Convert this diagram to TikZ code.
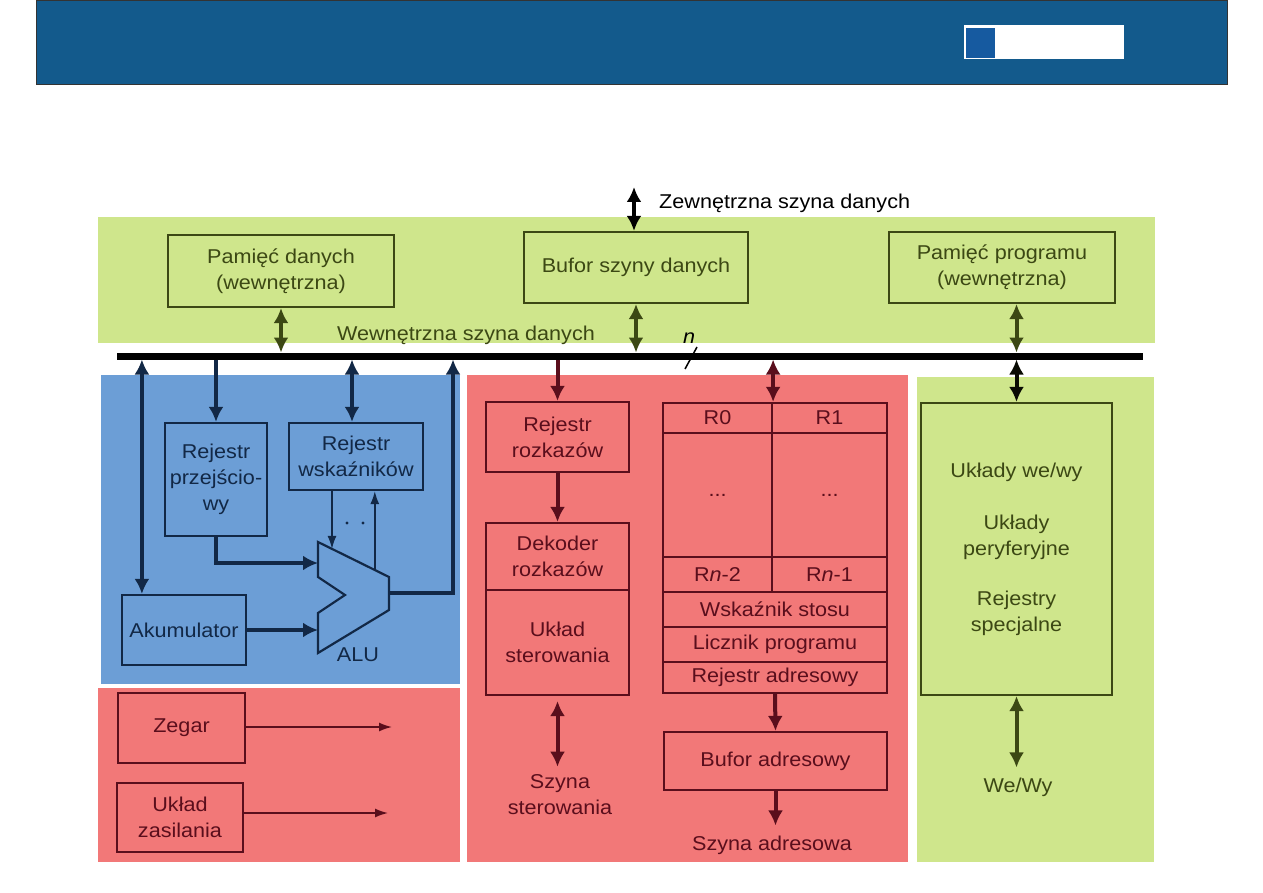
\documentclass[tikz,border=0pt]{standalone}
\usepackage{fontspec}
\setmainfont{Liberation Sans}[FakeStretch=1.08]
\usetikzlibrary{arrows.meta,calc}
\definecolor{hdr}{RGB}{19,90,140}
\definecolor{hdrsq}{RGB}{22,90,160}
\definecolor{pgreen}{RGB}{207,230,140}
\definecolor{pblue}{RGB}{108,158,214}
\definecolor{pred}{RGB}{242,120,120}
\definecolor{gline}{RGB}{60,72,20}
\definecolor{bline}{RGB}{18,40,70}
\definecolor{rline}{RGB}{90,14,28}
\begin{document}
\begin{tikzpicture}[x=1pt,y=-1pt,
  font=\fontsize{20}{26}\selectfont,
  box/.style={draw, line width=2.2pt, inner sep=0pt, align=center},
  gbox/.style={box, draw=gline, text=gline},
  bbox/.style={box, draw=bline, text=bline},
  rbox/.style={box, draw=rline, text=rline},
  lbl/.style={inner sep=0pt, align=center},
  thick arr/.style={line width=4pt, -{Latex[length=15pt,width=15pt]}},
  thick darr/.style={line width=4pt, {Latex[length=15pt,width=15pt]}-{Latex[length=15pt,width=15pt]}},
  thin arr/.style={line width=1.6pt, -{Latex[length=13pt,width=9pt]}}
]
\useasboundingbox (0,0) rectangle (1263,893);
% header
\fill[hdr, draw=black!80, line width=0.8pt] (36,0) rectangle (1227,84);
\fill[white] (964,25) rectangle (1124,59);
\fill[hdrsq] (966,28) rectangle (995,58);

% panels
\fill[pgreen] (98,217) rectangle (1155,343);
\fill[pblue] (101,375) rectangle (460,684);
\fill[pred] (98,688) rectangle (460,862);
\fill[pred] (467,375) rectangle (908,862);
\fill[pgreen] (917,377) rectangle (1154,862);

% bus
\coordinate (busL) at (117,356);
\coordinate (busR) at (1143,356);
\draw[line width=7pt] (busL) -- (busR);
\draw[line width=1.5pt] (685,369) -- (697,347);
\node[lbl, font=\fontsize{20}{26}\selectfont\itshape] (nlbl) at (689,338) {n};

% green
\node[gbox, minimum width=226pt, minimum height=72pt] (pd) at (281,271) {Pamięć danych\\(wewnętrzna)};
\node[gbox, minimum width=224pt, minimum height=71pt] (buf) at (636,267.5) {Bufor szyny danych};
\node[gbox, minimum width=226pt, minimum height=71pt] (pp) at (1002,267.5) {Pamięć programu\\(wewnętrzna)};
\node[gbox, minimum width=191pt, minimum height=292pt] (io) at (1016.5,549)
  {Układy we/wy\\[26pt]Układy\\peryferyjne\\[24pt]Rejestry\\specjalne};
\node[lbl, anchor=west] (ext) at (659,203) {Zewnętrzna szyna danych};
\node[lbl, text=gline] (wsd) at (466,335) {Wewnętrzna szyna danych};
\node[lbl, text=gline] (wewy) at (1018,787) {We/Wy};
\coordinate (extTop) at (634,187);

\draw[thick darr, black] (extTop) -- (extTop |- buf.north);
\draw[thick darr, gline, shorten >=3.5pt] (pd.south) -- (pd.south |- busL);
\draw[thick darr, gline, shorten >=3.5pt] (buf.south) -- (buf.south |- busL);
\draw[thick darr, gline, shorten >=3.5pt] (pp.south -| io.north) -- (io.north |- busL);
\draw[thick darr, black!85!gline, shorten <=3.5pt] (io.north |- busL) -- (io.north);
\draw[thick darr, gline, shorten >=10pt] (io.south) -- (io.south |- wewy.north);

% blue
\node[bbox, minimum width=102pt, minimum height=113pt] (rp) at (216,479.5) {Rejestr\\przejścio-\\wy};
\node[bbox, minimum width=134pt, minimum height=67pt] (rw) at (356,456.5) {Rejestr\\wskaźników};
\node[bbox, minimum width=124pt, minimum height=70pt] (ak) at (184,630) {Akumulator};
\coordinate (a1) at (318,542);
\coordinate (a2) at (389,577);
\coordinate (a3) at (389,610);
\coordinate (a4) at (318,653);
\draw[bline, line width=2.2pt, line join=miter] (a1) -- (a2) -- (a3) -- (a4) -- (318,613) -- (345,595) -- (318,577) -- cycle;
\node[lbl, text=bline] (alu) at (358,655) {ALU};
\coordinate (aluIn1) at (318,563);
\coordinate (aluOut) at (389,593);
\coordinate (aluRet) at (453,593);
\coordinate (aluT1) at ($(a1)!0.197!(a2)$);
\coordinate (aluT2) at ($(a1)!0.80!(a2)$);

\draw[thick darr, bline, shorten <=3.5pt] ([xshift=21pt]ak.north west |- busL) -- ([xshift=21pt]ak.north west);
\draw[thick arr, bline, shorten <=3.5pt] (rp.north |- busL) -- (rp.north);
\draw[thick darr, bline, shorten <=3.5pt] ([xshift=-4pt]rw.north |- busL) -- ([xshift=-4pt]rw.north);
\draw[thick arr, bline] (rp.south) |- (aluIn1);
\draw[thick arr, bline] (ak.east) -- (ak.east -| aluIn1);
\draw[thick arr, bline, shorten >=3.5pt] (aluOut) -- (aluRet) -- (aluRet |- busL);
\draw[thin arr, bline] (aluT1 |- rw.south) -- (aluT1);
\draw[thin arr, bline] (aluT2) -- (aluT2 |- rw.south);
\fill[bline] (347,523) circle (1.6pt) (363,523) circle (1.6pt);

% red lower-left
\node[rbox, minimum width=127pt, minimum height=70pt] (zeg) at (181.5,728) {Zegar};
\node[rbox, minimum width=126pt, minimum height=69pt] (zas) at (180,817.5) {Układ\\zasilania};
\coordinate (zegOut) at (392,727);
\coordinate (zasOut) at (388,813);
\draw[thin arr, rline] (zeg.east |- zegOut) -- (zegOut);
\draw[thin arr, rline] (zas.east |- zasOut) -- (zasOut);

% red middle
\node[rbox, minimum width=143pt, minimum height=70pt] (rr) at (557.5,437) {Rejestr\\rozkazów};
\node[rbox, minimum width=143pt, minimum height=67pt] (dek) at (557.5,556.5) {Dekoder\\rozkazów};
\node[rbox, minimum width=143pt, minimum height=105pt] (ust) at (557.5,642.5) {Układ\\sterowania};
\node[lbl, text=rline] (ss) at (560,795) {Szyna\\sterowania};

\node[rbox, minimum width=109pt, minimum height=30pt] (r0) at (717.5,418) {R0};
\node[rbox, minimum width=115pt, minimum height=30pt] (r1) at (829.5,418) {R1};
\node[rbox, minimum width=109pt, minimum height=124pt] (m0) at (717.5,495) {...};
\node[rbox, minimum width=115pt, minimum height=124pt] (m1) at (829.5,495) {...};
\node[rbox, minimum width=109pt, minimum height=35pt] (rn2) at (717.5,574.5) {R\textit{n}-2};
\node[rbox, minimum width=115pt, minimum height=35pt] (rn1) at (829.5,574.5) {R\textit{n}-1};
\node[rbox, minimum width=224pt, minimum height=35pt] (ws) at (775,609.5) {Wskaźnik stosu};
\node[rbox, minimum width=224pt, minimum height=35pt] (lp) at (775,644.5) {Licznik programu};
\node[rbox, minimum width=224pt, minimum height=31pt] (ra) at (775,677.5) {Rejestr adresowy};
\node[rbox, minimum width=223pt, minimum height=58pt] (ba) at (775.5,761) {Bufor adresowy};
\node[lbl, text=rline] (sa) at (772,845) {Szyna adresowa};

\draw[thick arr, rline, shorten <=3.5pt] (rr.north |- busL) -- (rr.north);
\draw[thick arr, rline] (rr.south) -- (dek.north);
\draw[thick darr, rline, shorten <=5pt, shorten >=8pt] (ust.south) -- (ust.south |- ss.north);
\draw[thick darr, rline, shorten <=3.5pt] (r0.north east |- busL) -- (r0.north east);
\draw[thick arr, rline] (ra.south) -- (ba.north);
\draw[thick arr, rline, shorten >=10pt] (ba.south) -- (ba.south |- sa.north);
\end{tikzpicture}
\end{document}
